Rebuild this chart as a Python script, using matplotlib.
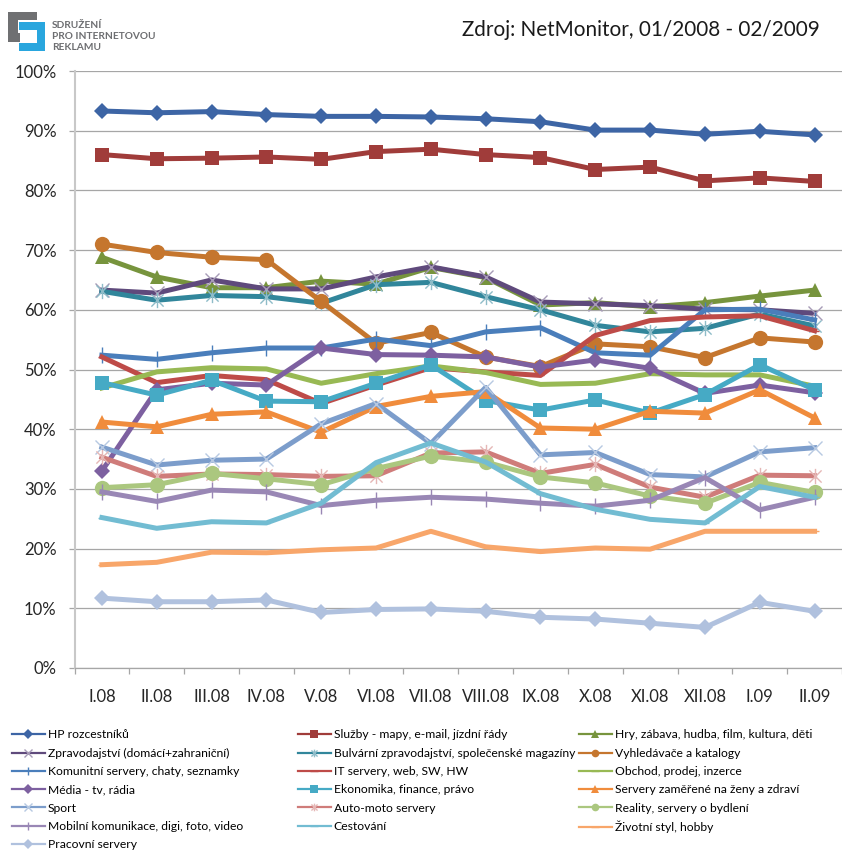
import matplotlib
matplotlib.use('Agg')
import matplotlib.pyplot as plt
from matplotlib.path import Path
from matplotlib.patches import Rectangle
from matplotlib.colors import to_rgb

plt.rcParams['font.family'] = ['Lato', 'DejaVu Sans']

W, H = 842, 851

# ---- data (percent of internet users) ----
months = ['I.08', 'II.08', 'III.08', 'IV.08', 'V.08', 'VI.08', 'VII.08',
          'VIII.08', 'IX.08', 'X.08', 'XI.08', 'XII.08', 'I.09', 'II.09']

hp_rozcestniky = [93.3, 93.0, 93.2, 92.7, 92.4, 92.4, 92.3, 92.0, 91.5, 90.1, 90.1, 89.4, 89.9, 89.3]
sluzby = [86.0, 85.3, 85.4, 85.6, 85.2, 86.5, 86.9, 86.0, 85.5, 83.5, 83.9, 81.6, 82.1, 81.5]
hry = [68.8, 65.5, 63.7, 63.7, 64.8, 64.3, 67.1, 65.4, 60.8, 61.2, 60.5, 61.2, 62.3, 63.3]
zpravodajstvi = [63.3, 62.8, 65.0, 63.5, 63.5, 65.5, 67.2, 65.5, 61.3, 61.0, 60.7, 60.1, 60.0, 59.4]
bulvar = [63.1, 61.6, 62.4, 62.2, 61.1, 64.2, 64.6, 62.2, 60.0, 57.4, 56.3, 56.9, 59.3, 57.3]
vyhledavace = [71.0, 69.6, 68.8, 68.4, 61.4, 54.4, 56.2, 52.1, 50.5, 54.3, 53.8, 52.0, 55.3, 54.6]
komunitni = [52.4, 51.7, 52.8, 53.6, 53.6, 55.1, 54.0, 56.3, 57.0, 52.8, 52.4, 60.0, 60.1, 58.3]
it_servery = [52.1, 47.8, 49.0, 48.3, 44.3, 47.4, 50.3, 49.6, 49.0, 55.7, 58.2, 58.8, 59.0, 56.5]
obchod = [46.9, 49.6, 50.3, 50.1, 47.7, 49.3, 50.6, 49.5, 47.5, 47.7, 49.3, 49.1, 49.1, 47.2]
media = [33.0, 46.6, 47.7, 47.4, 53.6, 52.5, 52.4, 52.1, 50.4, 51.6, 50.2, 46.0, 47.4, 46.1]
ekonomika = [47.8, 45.7, 48.2, 44.7, 44.6, 47.7, 50.8, 44.8, 43.2, 44.9, 42.7, 45.8, 50.8, 46.6]
zeny_zdravi = [41.2, 40.4, 42.5, 42.9, 39.5, 43.8, 45.5, 46.3, 40.2, 40.0, 43.0, 42.7, 46.6, 41.9]
sport = [37.0, 34.0, 34.8, 35.0, 40.9, 44.3, 37.6, 47.0, 35.7, 36.1, 32.4, 32.0, 36.2, 36.9]
auto_moto = [35.3, 32.1, 32.5, 32.4, 32.1, 32.2, 36.0, 36.2, 32.6, 34.1, 30.3, 28.6, 32.3, 32.2]
reality = [30.2, 30.7, 32.6, 31.7, 30.7, 33.4, 35.5, 34.5, 32.0, 31.0, 28.8, 27.6, 31.1, 29.4]
mobilni = [29.5, 27.9, 29.8, 29.5, 27.2, 28.1, 28.6, 28.3, 27.6, 27.1, 28.1, 31.9, 26.5, 28.6]
cestovani = [25.2, 23.4, 24.5, 24.3, 27.6, 34.4, 37.7, 34.5, 29.2, 26.6, 24.9, 24.3, 30.4, 28.6]
zivotni_styl = [17.3, 17.7, 19.4, 19.3, 19.8, 20.1, 22.9, 20.3, 19.5, 20.1, 19.9, 22.9, 22.9, 22.9]
pracovni = [11.7, 11.1, 11.1, 11.4, 9.3, 9.8, 9.9, 9.5, 8.5, 8.2, 7.5, 6.8, 11.0, 9.5]

names = ['HP rozcestníků', 'Služby - mapy, e-mail, jízdní řády',
         'Hry, zábava, hudba, film, kultura, děti',
         'Zpravodajství (domácí+zahraniční)',
         'Bulvární zpravodajství, společenské magazíny', 'Vyhledávače a katalogy',
         'Komunitní servery, chaty, seznamky', 'IT servery, web, SW, HW',
         'Obchod, prodej, inzerce', 'Média - tv, rádia', 'Ekonomika, finance, právo',
         'Servery zaměřené na ženy a zdraví', 'Sport', 'Auto-moto servery',
         'Reality, servery o bydlení', 'Mobilní komunikace, digi, foto, video',
         'Cestování', 'Životní styl, hobby', 'Pracovní servery']
series = [hp_rozcestniky, sluzby, hry, zpravodajstvi, bulvar, vyhledavace,
          komunitni, it_servery, obchod, media, ekonomika, zeny_zdravi,
          sport, auto_moto, reality, mobilni, cestovani, zivotni_styl, pracovni]

# ---- styles ----
colors = ['#3D65A5', '#A03C3A', '#77943D', '#5F4A7C', '#31869B', '#C5762E',
          '#4A7EBB', '#BE4B48', '#98B954', '#7D60A0', '#46AAC5', '#F08C3C',
          '#7C9DCB', '#CF7C7A', '#ABC77F', '#9987B5', '#72BCD2', '#F8A66A',
          '#B0C1DE']

star = Path([(-1, -1), (1, 1), (-1, 1), (1, -1), (0, -1.25), (0, 1.25)],
            [Path.MOVETO, Path.LINETO, Path.MOVETO, Path.LINETO, Path.MOVETO, Path.LINETO])
# (marker, size, thin/outline marker)
mstyle = [('D', 8, False), ('s', 10, False), ('^', 10, False), ('x', 10, True),
          (star, 11, True), ('o', 11, False), ('|', 11, True), ('_', 6, True),
          ('_', 6, True), ('D', 8, False), ('s', 10, False), ('^', 10, False),
          ('x', 10, True), (star, 11, True), ('o', 11, False), ('|', 11, True),
          ('_', 6, True), ('_', 6, True), ('D', 8, False)]


def lighten(c, f=0.45):
    r, g, b = to_rgb(c)
    return (r + (1 - r) * f, g + (1 - g) * f, b + (1 - b) * f)


fig = plt.figure(figsize=(W / 100, H / 100), dpi=100)
ax = fig.add_axes([74.5 / W, (H - 668) / H, (W - 74.5) / W, (668 - 71) / H])

x = list(range(len(months)))
for vals, name, c, (m, ms, thin) in zip(series, names, colors, mstyle):
    if thin:
        ec = lighten(c) if m in ('x', star) else c
        ax.plot(x, vals, color=c, lw=3.6, marker=m, ms=ms, mfc='none', mec=ec,
                mew=1.0, label=name, solid_joinstyle='round')
    else:
        ax.plot(x, vals, color=c, lw=3.6, marker=m, ms=ms, mfc=c, mec=c,
                mew=0, label=name, solid_joinstyle='round')

ax.set_xlim(-0.5, len(months) - 0.5)
ax.set_ylim(0, 100)
ax.set_yticks(range(0, 101, 10))
ax.set_yticklabels([f'{v}%' for v in range(0, 101, 10)])
ax.set_xticks(x)
ax.set_xticklabels(months)
ax.set_xticks([i - 0.5 for i in range(len(months) + 1)], minor=True)
ax.grid(axis='y', color='#A6A6A6', lw=0.9)
ax.set_axisbelow(True)
for s in ('top', 'right'):
    ax.spines[s].set_visible(False)
ax.spines['left'].set_color('#C8C8C8')
ax.spines['left'].set_linewidth(1.5)
ax.spines['bottom'].set_color('#A6A6A6')
ax.spines['bottom'].set_linewidth(0.9)
ax.tick_params(axis='y', length=4, width=0.9, color='#A6A6A6', pad=9,
               labelsize=12, labelcolor='#262626')
ax.tick_params(axis='x', which='major', length=0, pad=15, labelsize=12,
               labelcolor='#262626')
ax.tick_params(axis='x', which='minor', length=4, width=0.9, color='#A6A6A6')

# legend: three columns, filled row by row like the original
handles = ax.get_lines()
col_x = [12, 298, 579]
for ci in range(3):
    idx = list(range(ci, len(names), 3))
    leg = fig.legend([handles[i] for i in idx], [names[i] for i in idx],
                     loc='upper left', bbox_to_anchor=(col_x[ci] / W, 1 - 729.5 / H),
                     frameon=False, fontsize=8.7, handlelength=2.7,
                     handletextpad=0.25, borderpad=0, borderaxespad=0,
                     labelspacing=0.6)
    for ln in leg.get_lines():
        ln.set_linewidth(1.6)
        ln.set_markersize(5.5)

fig.text(641 / W, 1 - 30 / H, 'Zdroj: NetMonitor, 01/2008 - 02/2009',
         ha='center', va='center', fontsize=14.9, color='#1a1a1a')

# logo
def box(x0, y0, x1, y1, c):
    fig.add_artist(Rectangle((x0 / W, 1 - y1 / H), (x1 - x0) / W, (y1 - y0) / H,
                             transform=fig.transFigure, color=c, lw=0))

gray, blue = '#6F7072', '#29A6DE'
box(8, 12, 37, 20, gray)
box(8, 12, 18, 42, gray)
box(8, 33, 20, 42, gray)
box(19, 22, 45, 30, blue)
box(37, 22, 45, 51, blue)
box(19, 43, 45, 51, blue)
for i, t in enumerate(['SDRUŽENÍ', 'PRO INTERNETOVOU', 'REKLAMU']):
    fig.text(52 / W, 1 - (26 + 10.5 * i) / H, t, ha='left', va='center',
             fontsize=7.3, fontweight='bold', color='#6D6E71')

fig.savefig('out.png', dpi=100)
